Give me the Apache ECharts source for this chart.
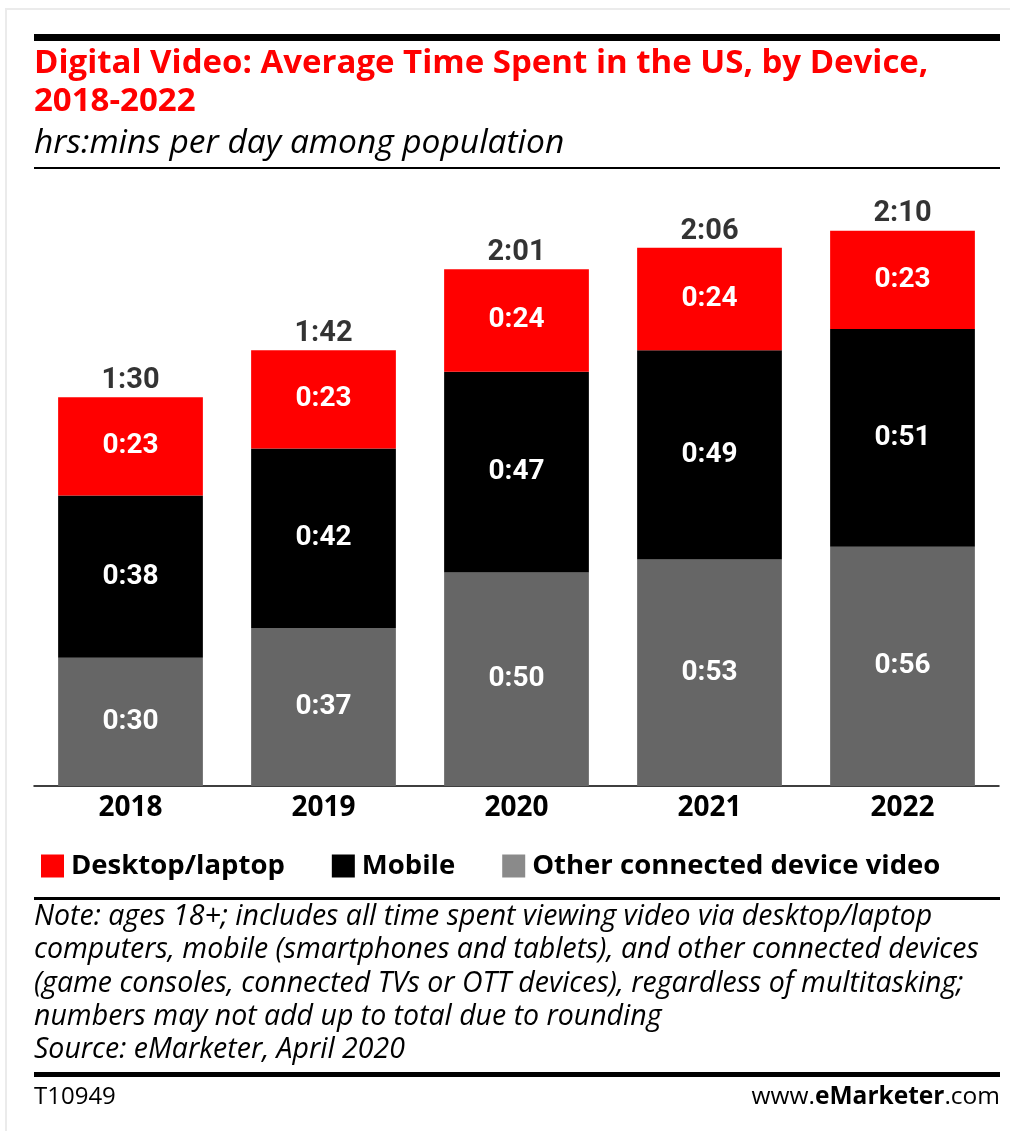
<!DOCTYPE html>
<html><head><meta charset="utf-8">
<script src="https://cdn.jsdelivr.net/npm/echarts@6/dist/echarts.min.js"></script>
<style>html,body{margin:0;padding:0;background:#fff;}#c{width:1010px;height:1131px;}</style>
</head><body><div id="c"></div>
<script>
const categories = ['2018','2019','2020','2021','2022'];
const otherMin = [30, 37, 50, 53, 56];
const mobileMin = [38, 42, 47, 49, 51];
const desktopMin = [23, 23, 24, 24, 23];
const totalLabels = ['1:30','1:42','2:01','2:06','2:10'];
const seriesNames = ['Desktop/laptop','Mobile','Other connected device video'];
const noteLines = [
 'Note: ages 18+; includes all time spent viewing video via desktop/laptop',
 'computers, mobile (smartphones and tablets), and other connected devices',
 '(game consoles, connected TVs or OTT devices), regardless of multitasking;',
 'numbers may not add up to total due to rounding',
 'Source: eMarketer, April 2020'
];

function fmt(m){ const h=Math.floor(m/60), mm=m%60; return h+':'+(mm<10?'0':'')+mm; }
const stackTops = categories.map((c,i)=>otherMin[i]+mobileMin[i]+desktopMin[i]);

const chart = echarts.init(document.getElementById('c'), null, {renderer:'canvas'});
const segLabel = {show:true, position:'inside', color:'#fff', fontFamily:'Roboto', fontWeight:'bold', fontSize:28, formatter:p=>fmt(p.value)};
const option = {
  animation:false,
  backgroundColor:'#fff',
  grid:{left:34, right:11, top:188, bottom:345},
  xAxis:{type:'category', data:categories,
    axisLine:{lineStyle:{color:'#000', width:1.5}}, axisTick:{show:false},
    axisLabel:{color:'#000', fontFamily:'Open Sans', fontWeight:'bold', fontSize:28, margin:8}},
  yAxis:{type:'value', min:0, max:140, show:false, splitLine:{show:false}},
  legend:{left:36, top:847, itemWidth:23, itemHeight:23, itemGap:47, icon:'rect',
    textStyle:{color:'#000', fontFamily:'Open Sans', fontWeight:'bold', fontSize:27.5, padding:[0,0,0,2]},
    data:[{name:seriesNames[0], itemStyle:{color:'#ff0000'}},{name:seriesNames[1], itemStyle:{color:'#000'}},{name:seriesNames[2], itemStyle:{color:'#8a8a8a'}}]},
  series:[
    {name:seriesNames[2], type:'bar', stack:'s', data:otherMin, barWidth:'75%', itemStyle:{color:'#666666'}, label:segLabel},
    {name:seriesNames[1], type:'bar', stack:'s', data:mobileMin, itemStyle:{color:'#000000'}, label:segLabel},
    {name:seriesNames[0], type:'bar', stack:'s', data:desktopMin, itemStyle:{color:'#ff0000'}, label:segLabel},
    {name:'total', type:'scatter', data:stackTops, symbolSize:0, silent:true,
      label:{show:true, position:'top', distance:2, color:'#000', fontFamily:'Roboto', fontWeight:'bold', fontSize:29, formatter:p=>totalLabels[p.dataIndex]}}
  ],
  graphic:[
    {type:'rect', shape:{x:6,y:9,width:1100,height:1300}, style:{fill:'none', stroke:'#ebebeb', lineWidth:2}, silent:true},
    {type:'rect', shape:{x:34,y:34,width:966,height:7}, style:{fill:'#000'}},
    {type:'text', x:34, y:64, style:{text:'Digital Video: Average Time Spent in the US, by Device,', fill:'#ff0000', font:'bold 33px "Open Sans"', textVerticalAlign:'middle'}},
    {type:'text', x:34, y:102, style:{text:'2018-2022', fill:'#ff0000', font:'bold 33px "Open Sans"', textVerticalAlign:'middle'}},
    {type:'text', x:34, y:143, style:{text:'hrs:mins per day among population', fill:'#000', font:'italic 33.5px "Open Sans"', textVerticalAlign:'middle'}},
    {type:'rect', shape:{x:34,y:167,width:966,height:2}, style:{fill:'#000'}},
    {type:'rect', shape:{x:34,y:897,width:966,height:3}, style:{fill:'#000'}},
    ...noteLines.map((t,i)=>({type:'text', x:34, y:917+i*33.3, style:{text:t, fill:'#000', font:'italic 28.5px "Open Sans"', textVerticalAlign:'middle'}})),
    {type:'rect', shape:{x:34,y:1072,width:966,height:5}, style:{fill:'#000'}},
    {type:'text', x:34, y:1097, style:{text:'T10949', fill:'#000', font:'24px "Open Sans"', textVerticalAlign:'middle'}},
    {type:'text', x:1000, y:1097, style:{text:'{a|www.}{b|e}{c|Marketer}{a|.com}', textAlign:'right', textVerticalAlign:'middle',
      rich:{a:{fontFamily:'Open Sans', fontSize:24.5, color:'#000'}, b:{fontFamily:'Open Sans', fontSize:24.5, fontWeight:'bold', color:'#ff0000'}, c:{fontFamily:'Open Sans', fontSize:24.5, fontWeight:'bold', color:'#000'}}}}
  ]
};
chart.setOption(option);
</script></body></html>
